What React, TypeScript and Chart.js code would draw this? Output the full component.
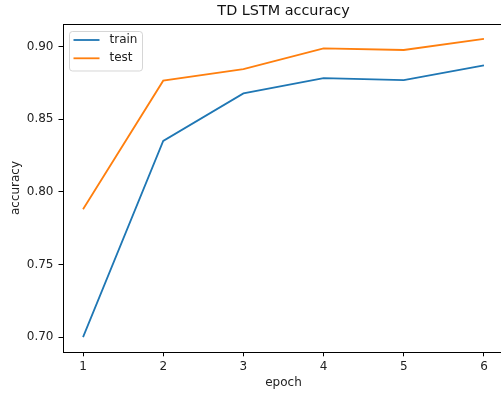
import React, { useEffect, useRef } from "react";
import { Chart, registerables } from "chart.js";

Chart.register(...registerables);

const epochs = [1, 2, 3, 4, 5, 6];
const trainAcc = [0.7, 0.835, 0.8677, 0.8782, 0.8768, 0.887];
const testAcc = [0.788, 0.8765, 0.8845, 0.8987, 0.8976, 0.9052];
const yTicks = [0.7, 0.75, 0.8, 0.85, 0.9];
const xTicks = [1, 2, 3, 4, 5, 6];
const seriesNames = ["train", "test"];
const seriesColors = ["#1f77b4", "#ff7f0e"];
const chartTitle = "TD LSTM accuracy";
const xTitle = "epoch";
const yTitle = "accuracy";

const FONT = "'DejaVu Sans', sans-serif";

const frameLegend = {
  id: "frameLegend",
  afterDatasetsDraw(chart: any) {
    const { ctx, chartArea } = chart;
    ctx.save();
    // top spine
    ctx.strokeStyle = "#000";
    ctx.lineWidth = 1;
    const ty = Math.round(chartArea.top) + 0.5;
    ctx.beginPath();
    ctx.moveTo(chartArea.left, ty);
    ctx.lineTo(chartArea.right, ty);
    ctx.stroke();

    // legend box
    const x0 = chartArea.left + 6.5;
    const y0 = chartArea.top + 7.5;
    const w = 73;
    const h = 39.5;
    const r = 3;
    ctx.beginPath();
    ctx.moveTo(x0 + r, y0);
    ctx.lineTo(x0 + w - r, y0);
    ctx.quadraticCurveTo(x0 + w, y0, x0 + w, y0 + r);
    ctx.lineTo(x0 + w, y0 + h - r);
    ctx.quadraticCurveTo(x0 + w, y0 + h, x0 + w - r, y0 + h);
    ctx.lineTo(x0 + r, y0 + h);
    ctx.quadraticCurveTo(x0, y0 + h, x0, y0 + h - r);
    ctx.lineTo(x0, y0 + r);
    ctx.quadraticCurveTo(x0, y0, x0 + r, y0);
    ctx.closePath();
    ctx.fillStyle = "rgba(255,255,255,0.8)";
    ctx.fill();
    ctx.strokeStyle = "rgba(204,204,204,0.8)";
    ctx.lineWidth = 1;
    ctx.stroke();

    ctx.font = `12px ${FONT}`;
    ctx.textBaseline = "middle";
    ctx.textAlign = "left";
    chart.data.datasets.forEach((ds: any, i: number) => {
      const ly = y0 + 8.5 + i * 18.3;
      ctx.strokeStyle = ds.borderColor;
      ctx.lineWidth = 1.8;
      ctx.beginPath();
      ctx.moveTo(x0 + 4, ly);
      ctx.lineTo(x0 + 30, ly);
      ctx.stroke();
      ctx.fillStyle = "#222";
      ctx.fillText(ds.label, x0 + 40, ly);
    });
    ctx.restore();
  },
};

export default function App() {
  const ref = useRef<HTMLCanvasElement>(null);

  useEffect(() => {
    if (!ref.current) return;
    const series = [trainAcc, testAcc];
    const chart = new Chart(ref.current, {
      type: "line",
      data: {
        datasets: series.map((vals, i) => ({
          label: seriesNames[i],
          data: epochs.map((e, j) => ({ x: e, y: vals[j] })),
          borderColor: seriesColors[i],
          backgroundColor: seriesColors[i],
          borderWidth: 1.8,
          pointRadius: 0,
          tension: 0,
          fill: false,
        })),
      },
      options: {
        responsive: false,
        animation: false,
        layout: { padding: 0 },
        plugins: {
          legend: { display: false },
          tooltip: { enabled: false },
          title: {
            display: true,
            text: chartTitle,
            fullSize: false,
            color: "#111",
            font: { family: FONT, size: 14.4, weight: "normal", lineHeight: 1.2 },
            padding: { top: 3, bottom: 3.72 },
          },
        },
        scales: {
          x: {
            type: "linear",
            min: 0.75,
            max: 6.25,
            afterBuildTicks: (axis: any) => {
              axis.ticks = xTicks.map((v) => ({ value: v }));
            },
            afterFit: (axis: any) => {
              axis.height = 44;
            },
            ticks: {
              color: "#222",
              font: { family: FONT, size: 12 },
              padding: 3,
              maxRotation: 0,
              autoSkip: false,
              callback: (v: any) => String(v),
            },
            grid: {
              drawOnChartArea: false,
              drawTicks: true,
              tickLength: 4.3,
              tickColor: "#000",
              tickWidth: 1,
            },
            border: { display: true, color: "#000", width: 1 },
            title: {
              display: true,
              text: xTitle,
              color: "#222",
              font: { family: FONT, size: 12, lineHeight: 1.2 },
              padding: { top: 0, bottom: 5.8 },
            },
          },
          y: {
            type: "linear",
            min: 0.6897,
            max: 0.9155,
            afterBuildTicks: (axis: any) => {
              axis.ticks = yTicks.map((v) => ({ value: v }));
            },
            afterFit: (axis: any) => {
              axis.width = 63;
            },
            ticks: {
              color: "#222",
              font: { family: FONT, size: 12 },
              padding: 5,
              autoSkip: false,
              callback: (v: any) => Number(v).toFixed(2),
            },
            grid: {
              drawOnChartArea: false,
              drawTicks: true,
              tickLength: 4.5,
              tickColor: "#000",
              tickWidth: 1,
            },
            border: { display: true, color: "#000", width: 1 },
            title: {
              display: true,
              text: yTitle,
              color: "#222",
              font: { family: FONT, size: 12, lineHeight: 1.2 },
              padding: { top: 9, bottom: 0 },
            },
          },
        },
      },
      plugins: [frameLegend],
    } as any);
    return () => chart.destroy();
  }, []);

  return (
    <div style={{ position: "fixed", left: 0, top: 0, width: 504, height: 396, background: "#fff" }}>
      <canvas ref={ref} width={504} height={396} style={{ display: "block" }} />
    </div>
  );
}
